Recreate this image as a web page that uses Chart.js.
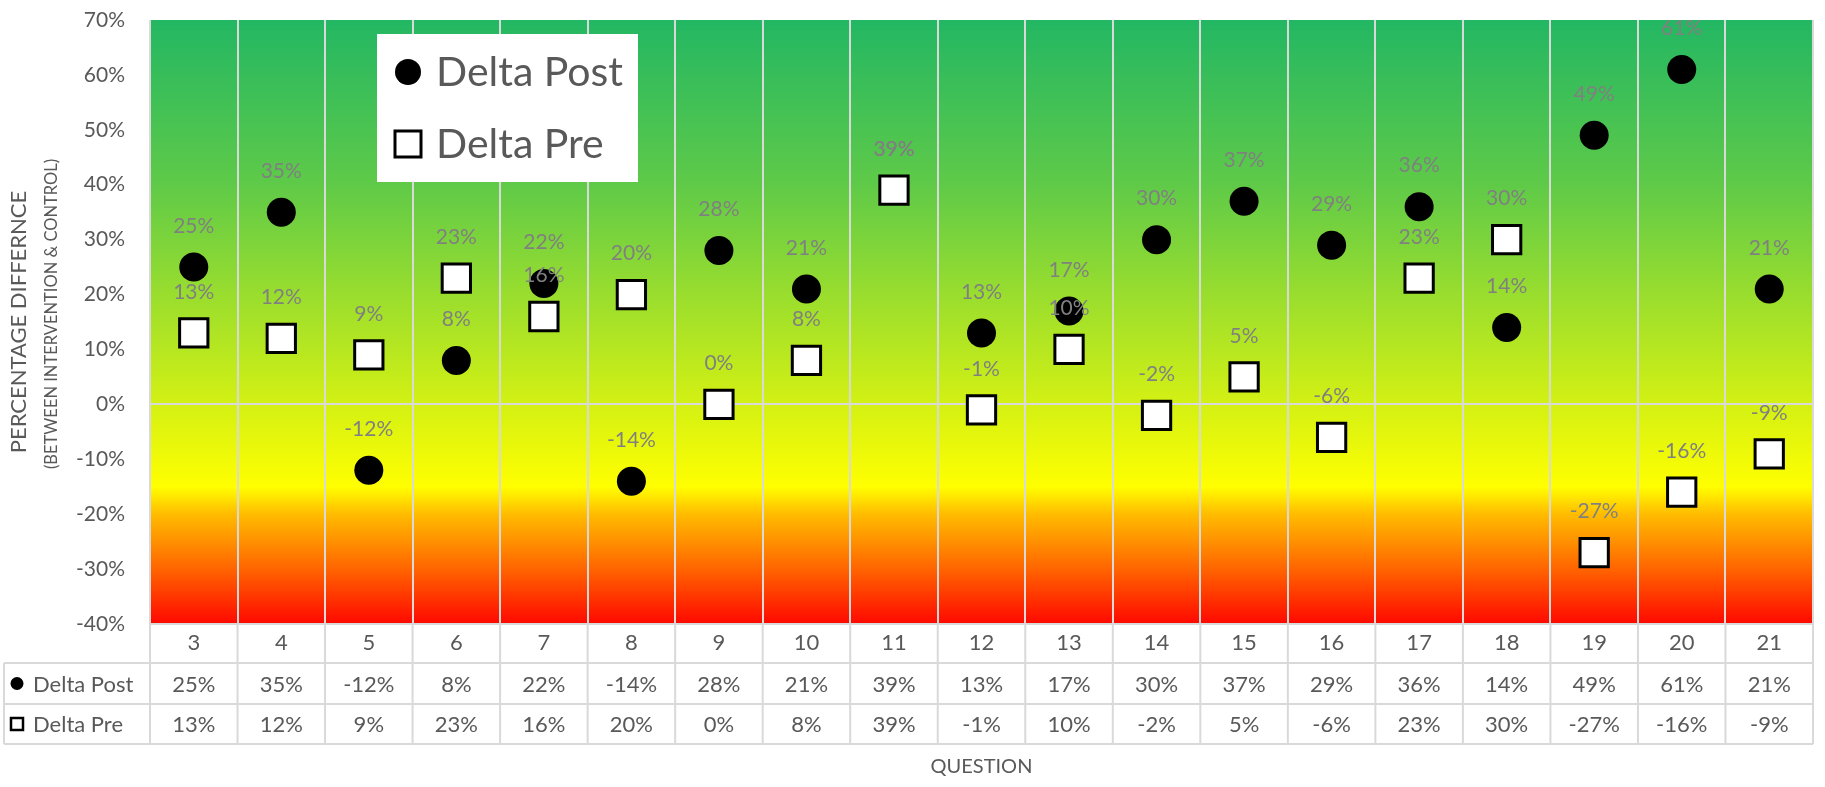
<!DOCTYPE html>
<html>
<head>
<meta charset="utf-8">
<script src="https://cdn.jsdelivr.net/npm/chart.js@4/dist/chart.umd.min.js"></script>
<style>
  html, body { margin: 0; padding: 0; background: #ffffff; }
  #wrap { width: 1825px; height: 787px; position: relative; }
</style>
</head>
<body>
<div id="wrap"><canvas id="chart"></canvas></div>
<script>
// Question numbers along the x axis
const questions = ['3', '4', '5', '6', '7', '8', '9', '10', '11', '12', '13', '14', '15', '16', '17', '18', '19', '20', '21'];
// Percentage difference between intervention and control groups
const deltaPost = [25, 35, -12, 8, 22, -14, 28, 21, 39, 13, 17, 30, 37, 29, 36, 14, 49, 61, 21];
const deltaPre  = [13, 12, 9, 23, 16, 20, 0, 8, 39, -1, 10, -2, 5, -6, 23, 30, -27, -16, -9];
// Value axis range and step
const yMin = -40;
const yMax = 70;
const yStep = 10;

const FONT = 'Lato, "Open Sans", sans-serif';
const TEXT = '#595959';
const LABEL = '#808080';
const GRID = '#d9d9d9';

const pct = v => v + '%';

// Vertical green → yellow → red band behind the plot, stops given in axis units
const bandStops = [
  [70, '#23b763'],
  [40, '#5fca48'],
  [-15, '#ffff00'],
  [-20, '#ffbc00'],
  [-30, '#ff6400'],
  [-40, '#ff0800']
];

const bandPlugin = {
  id: 'band',
  beforeDraw(chart) {
    const { ctx, chartArea: a, scales: { y } } = chart;
    const top = y.getPixelForValue(yMax);
    const bottom = y.getPixelForValue(yMin);
    const g = ctx.createLinearGradient(0, top, 0, bottom);
    bandStops.forEach(([v, c]) => g.addColorStop((yMax - v) / (yMax - yMin), c));
    ctx.save();
    ctx.fillStyle = g;
    ctx.fillRect(a.left, a.top, a.right - a.left, a.bottom - a.top);
    ctx.restore();
  }
};

function drawKey(ctx, kind, x, y, size, lw) {
  ctx.save();
  if (kind === 'circle') {
    ctx.fillStyle = '#000';
    ctx.beginPath();
    ctx.arc(x, y, size / 2, 0, Math.PI * 2);
    ctx.fill();
  } else {
    ctx.fillStyle = '#fff';
    ctx.strokeStyle = '#000';
    ctx.lineWidth = lw;
    ctx.fillRect(x - size / 2, y - size / 2, size, size);
    ctx.strokeRect(x - size / 2, y - size / 2, size, size);
  }
  ctx.restore();
}

// Value labels above every marker
const valueLabelPlugin = {
  id: 'valueLabels',
  afterDatasetsDraw(chart) {
    const { ctx } = chart;
    ctx.save();
    ctx.font = '21px ' + FONT;
    ctx.fillStyle = LABEL;
    ctx.textAlign = 'center';
    ctx.textBaseline = 'middle';
    chart.data.datasets.forEach((ds, i) => {
      chart.getDatasetMeta(i).data.forEach((pt, j) => {
        ctx.fillText(pct(ds.data[j]), pt.x, pt.y - 41);
      });
    });
    ctx.restore();
  }
};

// Boxed legend inside the plot area
const boxLegendPlugin = {
  id: 'boxLegend',
  afterDatasetsDraw(chart) {
    const { ctx, chartArea: a } = chart;
    const x0 = a.left + 227, y0 = a.top + 14, w = 261, h = 148;
    ctx.save();
    ctx.fillStyle = '#ffffff';
    ctx.fillRect(x0, y0, w, h);
    ctx.font = '41px ' + FONT;
    ctx.fillStyle = TEXT;
    ctx.textBaseline = 'middle';
    ctx.textAlign = 'left';
    const rows = [[chart.data.datasets[1], 'circle', y0 + 38], [chart.data.datasets[0], 'rect', y0 + 110]];
    rows.forEach(([ds, kind, yy]) => {
      drawKey(ctx, kind, x0 + 31, yy, 26, 3);
      ctx.fillText(ds.label, x0 + 59, yy + 1);
    });
    ctx.restore();
  }
};

// Data table under the plot and the two-line value axis title
const tablePlugin = {
  id: 'dataTable',
  afterDraw(chart) {
    const { ctx, chartArea: a, scales: { x } } = chart;
    const rowH = [39, 41, 40];
    const r0 = a.bottom, r1 = r0 + rowH[0], r2 = r1 + rowH[1], r3 = r2 + rowH[2];
    const tableLeft = 4;
    const half = (x.getPixelForValue(1) - x.getPixelForValue(0)) / 2;
    ctx.save();
    ctx.strokeStyle = GRID;
    ctx.lineWidth = 2;
    ctx.beginPath();
    // horizontal rules
    ctx.moveTo(a.left, r0); ctx.lineTo(a.right, r0);
    [r1, r2, r3].forEach(yy => { ctx.moveTo(tableLeft, yy); ctx.lineTo(a.right, yy); });
    // column rules
    for (let i = 0; i <= questions.length; i++) {
      const xx = i < questions.length ? x.getPixelForValue(i) - half : x.getPixelForValue(i - 1) + half;
      ctx.moveTo(xx, r0); ctx.lineTo(xx, r3);
    }
    ctx.moveTo(tableLeft, r1); ctx.lineTo(tableLeft, r3);
    ctx.stroke();

    ctx.font = '22px ' + FONT;
    ctx.fillStyle = TEXT;
    ctx.textBaseline = 'middle';
    const rows = [
      [chart.data.datasets[1], 'circle', (r1 + r2) / 2],
      [chart.data.datasets[0], 'rect', (r2 + r3) / 2]
    ];
    rows.forEach(([ds, kind, yy]) => {
      drawKey(ctx, kind, 17, yy, kind === 'circle' ? 13 : 12, 2.5);
      ctx.fillStyle = TEXT;
      ctx.textAlign = 'left';
      ctx.fillText(ds.label, 33, yy + 1);
      ctx.textAlign = 'center';
      ds.data.forEach((v, j) => ctx.fillText(pct(v), x.getPixelForValue(j), yy + 1));
    });

    // value axis title
    const cy = (a.top + a.bottom) / 2;
    ctx.save();
    ctx.translate(19, cy);
    ctx.rotate(-Math.PI / 2);
    ctx.textAlign = 'center';
    ctx.font = '22px ' + FONT;
    ctx.fillText('PERCENTAGE DIFFERNCE', 0, 0);
    ctx.restore();
    ctx.save();
    ctx.translate(52, cy - 8);
    ctx.rotate(-Math.PI / 2);
    ctx.textAlign = 'center';
    ctx.font = '16.5px ' + FONT;
    ctx.fillText('(BETWEEN INTERVENTION & CONTROL)', 0, 0);
    ctx.restore();
    ctx.restore();
  }
};

new Chart(document.getElementById('chart'), {
  type: 'line',
  data: {
    labels: questions,
    datasets: [
      {
        label: 'Delta Pre',
        data: deltaPre,
        showLine: false,
        order: 0,
        pointStyle: 'rect',
        pointRadius: 20,
        pointBackgroundColor: '#ffffff',
        pointBorderColor: '#000000',
        pointBorderWidth: 3
      },
      {
        label: 'Delta Post',
        data: deltaPost,
        showLine: false,
        order: 1,
        pointStyle: 'circle',
        pointRadius: 14.5,
        pointBackgroundColor: '#000000',
        pointBorderColor: '#000000',
        pointBorderWidth: 0
      }
    ]
  },
  options: {
    responsive: true,
    maintainAspectRatio: false,
    animation: false,
    events: [],
    layout: { autoPadding: false, padding: { top: 20, right: 12, bottom: 8, left: 0 } },
    plugins: {
      legend: { display: false },
      tooltip: { enabled: false }
    },
    scales: {
      x: {
        offset: true,
        afterFit: s => { s.height = 155; s.paddingLeft = 0; s.paddingRight = 0; },
        grid: { offset: true, color: GRID, lineWidth: 2, drawTicks: false },
        border: { display: false },
        ticks: { color: TEXT, font: { family: FONT, size: 22 }, padding: 6, maxRotation: 0 },
        title: { display: true, text: 'QUESTION', color: TEXT, font: { family: FONT, size: 20 }, padding: 0 }
      },
      y: {
        min: yMin,
        max: yMax,
        afterFit: s => { s.width = 150; s.paddingTop = 0; s.paddingBottom = 0; },
        grid: {
          drawTicks: false,
          lineWidth: 2,
          color: c => (c.tick && c.tick.value === 0 ? GRID : 'rgba(0,0,0,0)')
        },
        border: { display: false },
        ticks: { stepSize: yStep, color: TEXT, font: { family: FONT, size: 21 }, padding: 25, callback: v => pct(v) }
      }
    }
  },
  plugins: [bandPlugin, valueLabelPlugin, boxLegendPlugin, tablePlugin]
});
</script>
</body>
</html>
